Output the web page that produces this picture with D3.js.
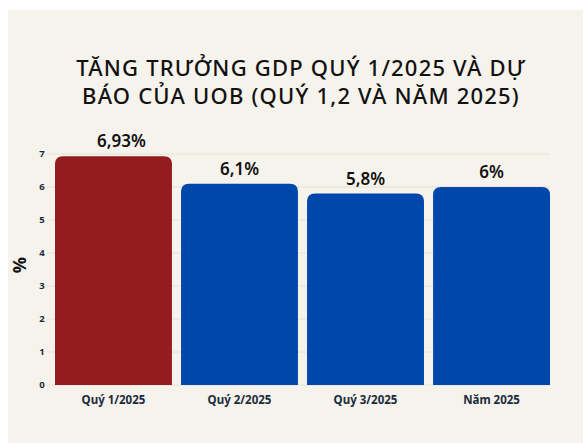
<!DOCTYPE html>
<html>
<head>
<meta charset="utf-8">
<script src="https://cdn.jsdelivr.net/npm/d3@7"></script>
<style>
  body { margin: 0; background: #ffffff; }
</style>
</head>
<body>
<div id="chart"></div>
<script>
var categories = ["Quý 1/2025", "Quý 2/2025", "Quý 3/2025", "Năm 2025"];
var values = [6.93, 6.1, 5.8, 6];
var valueLabels = ["6,93%", "6,1%", "5,8%", "6%"];
var barColors = ["#941c1c", "#0047ab", "#0047ab", "#0047ab"];
var yTicks = [0, 1, 2, 3, 4, 5, 6, 7];
var titleLines = ["TĂNG TRƯỞNG GDP QUÝ 1/2025 VÀ DỰ", "BÁO CỦA UOB (QUÝ 1,2 VÀ NĂM 2025)"];

var width = 585;
var height = 443;

var svg = d3.select("#chart")
    .append("svg")
    .attr("width", width)
    .attr("height", height);

// cream panel
svg.append("rect")
    .attr("x", 8)
    .attr("y", 10)
    .attr("width", 575)
    .attr("height", height - 10)
    .attr("fill", "#f6f3ec");

// title
svg.append("text")
    .attr("x", 301)
    .attr("y", 76)
    .attr("text-anchor", "middle")
    .attr("font-family", "Noto Sans")
    .attr("font-size", "22px")
    .attr("font-weight", 500)
    .attr("letter-spacing", "1.2px")
    .attr("fill", "#111111")
    .selectAll("tspan")
    .data(titleLines)
    .enter().append("tspan")
    .attr("x", 301)
    .attr("dy", function(d, i) { return i == 0 ? 0 : 28; })
    .text(function(d) { return d; });

var x = d3.scaleBand()
    .domain(categories)
    .range([55, 550])
    .paddingInner(0.072)
    .paddingOuter(0);

var y = d3.scaleLinear()
    .domain([0, 7])
    .range([385, 154]);

// gridlines
svg.append("g")
    .selectAll("line")
    .data(yTicks)
    .enter().append("line")
    .attr("x1", 47)
    .attr("x2", 550)
    .attr("y1", function(d) { return y(d); })
    .attr("y2", function(d) { return y(d); })
    .attr("stroke", "#e6e2d6")
    .attr("stroke-width", 1);

// y axis tick labels
svg.append("g")
    .selectAll("text")
    .data(yTicks)
    .enter().append("text")
    .attr("x", 42)
    .attr("y", function(d) { return y(d) + 3; })
    .attr("text-anchor", "middle")
    .attr("font-family", "Noto Sans")
    .attr("font-size", "9.5px")
    .attr("font-weight", "bold")
    .attr("fill", "#1b2a3d")
    .text(function(d) { return d; });

// y axis title
svg.append("text")
    .attr("transform", "translate(26,265) rotate(-90)")
    .attr("text-anchor", "middle")
    .attr("font-family", "Noto Sans")
    .attr("font-size", "18px")
    .attr("font-weight", "bold")
    .attr("fill", "#111111")
    .text("%");

// bars with rounded top corners
function barPath(d, i) {
  var x0 = x(categories[i]);
  var w = x.bandwidth();
  var y0 = y(d);
  var y1 = y(0);
  var r = 8;
  return "M" + x0 + "," + y1 +
    "L" + x0 + "," + (y0 + r) +
    "Q" + x0 + "," + y0 + " " + (x0 + r) + "," + y0 +
    "L" + (x0 + w - r) + "," + y0 +
    "Q" + (x0 + w) + "," + y0 + " " + (x0 + w) + "," + (y0 + r) +
    "L" + (x0 + w) + "," + y1 + "Z";
}

svg.append("g")
    .selectAll("path")
    .data(values)
    .enter().append("path")
    .attr("d", barPath)
    .attr("fill", function(d, i) { return barColors[i]; });

// value labels (the first one sits a little right of centre in the original)
svg.append("g")
    .selectAll("text")
    .data(values)
    .enter().append("text")
    .attr("x", function(d, i) { return x(categories[i]) + x.bandwidth() / 2 + (i == 0 ? 8 : 0); })
    .attr("y", function(d) { return y(d) - 9; })
    .attr("text-anchor", "middle")
    .attr("font-family", "Noto Sans")
    .attr("font-size", "17px")
    .attr("font-weight", 600)
    .attr("fill", "#111111")
    .text(function(d, i) { return valueLabels[i]; });

// category labels
svg.append("g")
    .selectAll("text")
    .data(categories)
    .enter().append("text")
    .attr("x", function(d) { return x(d) + x.bandwidth() / 2; })
    .attr("y", 404)
    .attr("text-anchor", "middle")
    .attr("font-family", "Noto Sans")
    .attr("font-size", "11.5px")
    .attr("font-weight", "bold")
    .attr("fill", "#1b2a3d")
    .text(function(d) { return d; });
</script>
</body>
</html>
